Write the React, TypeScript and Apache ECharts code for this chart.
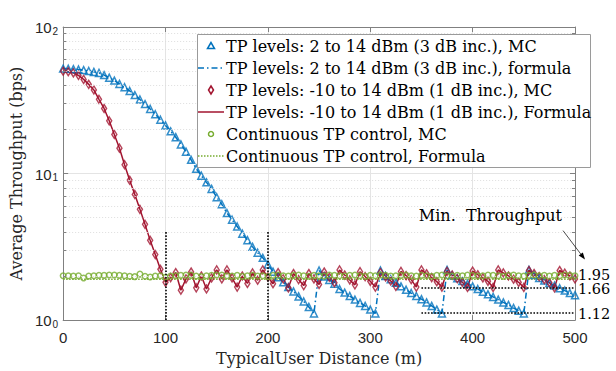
import React, { useEffect, useRef } from 'react';
import * as echarts from 'echarts';

// Distance grid (m) — samples every 5 m
const distances = Array.from({ length: 101 }, (_, i) => i * 5);

// TP levels: 2 to 14 dBm (3 dB inc.) — MC & formula
const blueMC = [
  52.0, 51.9, 51.6, 51.3, 50.8, 50.1, 49.4, 48.6, 47.0, 45.1,
  43.1, 40.9, 38.8, 36.6, 34.3, 32.0, 29.8, 27.6, 25.4, 23.3,
  21.3, 19.4, 17.7, 15.8, 14.1, 12.4, 10.8, 9.66, 8.71, 7.85,
  6.89, 6.17, 5.37, 4.84, 4.35, 3.89, 3.51, 3.16, 2.88, 2.66,
  2.40, 2.14, 1.96, 1.81, 1.68, 1.57, 1.45, 1.34, 1.23, 1.11,
  2.18, 1.98, 1.88, 1.77, 1.63, 1.54, 1.46, 1.38, 1.31, 1.25,
  1.18, 1.11, 2.18, 2.0, 1.9, 1.8, 1.7, 1.61, 1.53, 1.46,
  1.39, 1.32, 1.25, 1.18, 1.11, 2.2, 2.02, 1.93, 1.85, 1.77,
  1.7, 1.63, 1.56, 1.5, 1.44, 1.38, 1.32, 1.27, 1.21, 1.16,
  1.11, 2.2, 2.03, 1.94, 1.86, 1.79, 1.72, 1.65, 1.59, 1.53,
  1.48,
];

// TP levels: -10 to 14 dBm (1 dB inc.) — MC & formula
const redMC = [
  49.9, 49.5, 48.6, 46.7, 43.9, 40.6, 37.2, 32.1, 27.8, 22.9,
  18.5, 14.9, 11.5, 9.0, 7.2, 5.7, 4.5, 3.5, 2.8, 2.22,
  1.81, 1.95, 2.11, 1.6, 1.91, 2.13, 1.66, 2.0, 1.63, 1.94,
  2.2, 1.91, 2.2, 1.94, 1.68, 2.0, 1.78, 2.1, 1.87, 2.2,
  1.97, 1.77, 2.11, 1.91, 1.66, 2.08, 1.89, 1.72, 2.08, 1.91,
  1.75, 2.13, 1.96, 1.8, 2.2, 2.03, 1.88, 1.74, 2.14, 1.98,
  1.84, 1.68, 2.11, 1.97, 1.85, 1.7, 2.15, 2.01, 1.89, 1.68,
  2.2, 2.07, 1.95, 1.83, 1.68, 2.15, 2.03, 1.92, 1.81, 1.67,
  2.16, 2.04, 1.94, 1.84, 1.67, 2.2, 2.1, 2.0, 1.9, 1.81,
  1.67, 2.18, 2.08, 1.98, 1.89, 1.8, 1.66, 2.18, 2.09, 2.0,
  1.91,
];

// Continuous TP control — MC
const greenMC = [
  2.01, 2.01, 2.0, 2.01, 1.94, 2.0, 2.01, 2.02, 2.02, 2.03,
  2.03, 2.02, 2.01, 1.99, 1.98, 2.06, 1.99, 1.97, 2.0, 2.01,
  1.96, 2.0, 2.01, 2.02, 2.03, 2.02, 2.0, 1.98, 2.01, 2.02,
  2.03, 2.03, 2.01, 2.0, 2.02, 1.99, 2.01, 2.02, 2.0, 2.01,
  1.98, 2.02, 2.03, 2.01, 2.0, 2.02, 2.03, 2.01, 1.99, 2.02,
  2.01, 2.0, 2.03, 2.02, 2.01, 2.0, 2.02, 2.03, 2.01, 1.99,
  2.02, 2.01, 2.03, 2.02, 2.0, 2.01, 2.02, 2.03, 2.01, 2.0,
  2.02, 2.01, 1.99, 2.02, 2.03, 2.01, 2.0, 2.02, 2.01, 2.03,
  2.02, 2.0, 2.01, 2.03, 2.02, 2.01, 1.99, 2.02, 2.03, 2.01,
  2.0, 2.02, 2.03, 2.01, 2.02, 2.0, 2.02, 2.01, 2.03, 2.02,
  2.01,
];

// Continuous TP control — formula (constant level)
const greenFormulaX = [0, 500];
const greenFormulaY = [1.9, 1.9];

// Annotation values
const refLineX = [100, 200];
const refLineTop = 4;
const minLevelY = [1.66, 1.12];
const minLevelStart = 350;
const minLabelValues = [1.95, 1.66, 1.12];
const minLabels = ['1.95', '1.66', '1.12'];

const seriesNames = [
  'TP levels: 2 to 14 dBm (3 dB inc.), MC',
  'TP levels: 2 to 14 dBm (3 dB inc.), formula',
  'TP levels: -10 to 14 dBm (1 dB inc.), MC',
  'TP levels: -10 to 14 dBm (1 dB inc.), Formula',
  'Continuous TP control, MC',
  'Continuous TP control, Formula',
];
const legendIcons = ['triangle', 'dashdot', 'diamond', 'solid', 'circle', 'dotted'];

const BLUE = '#0072BD';
const RED = '#A2142F';
const GREEN = '#77AC30';
const SERIF = 'DejaVu Serif';
const SANS = 'Liberation Sans';
const AXIS_COLOR = '#808080';
const CLEAR = 'rgba(255,255,255,0)';
const DASHDOT = [6, 3, 1.5, 3];

const minorVals: number[] = [];
[1, 10].forEach((dec) => {
  for (let m = 2; m <= 9; m++) minorVals.push(m * dec);
});

function legendGraphics(): any[] {
  const L = 197, T = 34, W = 393, H = 133, ROW = 22;
  const cols = [BLUE, BLUE, RED, RED, GREEN, GREEN];
  const out: any[] = [
    {
      type: 'rect', z: 20, shape: { x: L + 0.5, y: T + 0.5, width: W, height: H },
      style: { fill: '#fff', stroke: '#9a9a9a', lineWidth: 1 },
    },
  ];
  seriesNames.forEach((name, i) => {
    const cy = T + 12 + ROW * i;
    const cx = L + 14;
    const c = cols[i];
    const kind = legendIcons[i];
    if (kind === 'triangle') {
      out.push({ type: 'polygon', z: 21, shape: { points: [[cx, cy - 3.5], [cx - 3.5, cy + 2.5], [cx + 3.5, cy + 2.5]] }, style: { fill: CLEAR, stroke: c, lineWidth: 1.5 } });
    } else if (kind === 'diamond') {
      out.push({ type: 'polygon', z: 21, shape: { points: [[cx, cy - 4], [cx + 2.5, cy], [cx, cy + 4], [cx - 2.5, cy]] }, style: { fill: CLEAR, stroke: c, lineWidth: 1.5 } });
    } else if (kind === 'circle') {
      out.push({ type: 'circle', z: 21, shape: { cx, cy, r: 2.5 }, style: { fill: CLEAR, stroke: c, lineWidth: 1.5 } });
    } else {
      const dash = kind === 'dashdot' ? DASHDOT : kind === 'dotted' ? [1.5, 1.5] : null;
      out.push({ type: 'line', z: 21, shape: { x1: L + 1, y1: cy, x2: L + 27, y2: cy }, style: { stroke: c, lineWidth: 1.5, lineDash: dash } });
    }
    out.push({
      type: 'text', z: 21, x: L + 29, y: cy,
      style: { text: name, fontFamily: SERIF, fontSize: 16, fill: '#000', align: 'left', verticalAlign: 'middle' },
    });
  });
  return out;
}

export default function App() {
  const ref = useRef<HTMLDivElement>(null);

  useEffect(() => {
    const el = ref.current;
    if (!el) return;
    const chart = echarts.init(el, null, { renderer: 'svg' });

    const pair = (ys: number[]) => distances.map((d, i) => [d, ys[i]]);
    const greenF = greenFormulaX.map((x, i) => [x, greenFormulaY[i]]);

    const axisLine = { show: true, onZero: false, lineStyle: { color: AXIS_COLOR, width: 1 } };
    const axisTick = { show: true, inside: true, length: 5, lineStyle: { color: AXIS_COLOR, width: 1 } };

    const option: any = {
      animation: false,
      backgroundColor: '#ffffff',
      grid: { left: 48, top: 27, right: 41, bottom: 48, containLabel: false },
      xAxis: [
        {
          type: 'value', min: 0, max: 500, interval: 100, position: 'bottom',
          axisLine, axisTick,
          axisLabel: { fontFamily: SANS, fontSize: 15, color: '#262626', margin: 10 },
          splitLine: { show: true, lineStyle: { color: '#e4e4e4', width: 1 } },
          name: 'TypicalUser Distance (m)', nameLocation: 'middle', nameGap: 26,
          nameTextStyle: { fontFamily: SERIF, fontSize: 16, color: '#262626' },
        },
        {
          type: 'value', min: 0, max: 500, interval: 100, position: 'top',
          axisLine, axisTick, axisLabel: { show: false }, splitLine: { show: false },
        },
      ],
      yAxis: [
        {
          type: 'log', logBase: 10, min: 1, max: 100, position: 'left',
          axisLine, axisTick,
          axisLabel: {
            margin: 5,
            formatter: (v: number) => `{b|10}{e|${Math.round(Math.log10(v))}}`,
            rich: {
              b: { fontFamily: SANS, fontSize: 15, color: '#262626', lineHeight: 16, padding: [10, 0, 0, 0], verticalAlign: 'bottom' },
              e: { fontFamily: SANS, fontSize: 10, color: '#262626', lineHeight: 10, padding: [7, 0, 0, 1], verticalAlign: 'top' },
            },
          },
          splitLine: { show: true, lineStyle: { color: '#e4e4e4', width: 1 } },
          name: 'Average Throughput (bps)', nameLocation: 'middle', nameGap: 25,
          nameTextStyle: { fontFamily: SERIF, fontSize: 16, color: '#262626' },
        },
        {
          type: 'log', logBase: 10, min: 1, max: 100, position: 'right',
          axisLine, axisTick, axisLabel: { show: false }, splitLine: { show: false },
        },
      ],
      series: [
        {
          name: seriesNames[0], type: 'scatter', data: pair(blueMC), symbol: 'triangle', symbolSize: 7,
          clip: false, z: 3, itemStyle: { color: CLEAR, borderColor: BLUE, borderWidth: 1.5 },
        },
        {
          name: seriesNames[1], type: 'line', data: pair(blueMC), symbol: 'none', z: 3,
          lineStyle: { color: BLUE, width: 1.5, type: DASHDOT }, itemStyle: { color: BLUE },
        },
        {
          name: seriesNames[2], type: 'scatter', data: pair(redMC), symbol: 'diamond', symbolSize: [5, 8],
          clip: false, z: 3, itemStyle: { color: CLEAR, borderColor: RED, borderWidth: 1.5 },
        },
        {
          name: seriesNames[3], type: 'line', data: pair(redMC), symbol: 'none', z: 3,
          lineStyle: { color: RED, width: 1.5 }, itemStyle: { color: RED },
        },
        {
          name: seriesNames[4], type: 'scatter', data: pair(greenMC), symbol: 'circle', symbolSize: 5.5,
          clip: false, z: 3, itemStyle: { color: CLEAR, borderColor: GREEN, borderWidth: 1.5 },
        },
        {
          name: seriesNames[5], type: 'line', data: greenF, symbol: 'none', z: 3,
          lineStyle: { color: GREEN, width: 1.5, type: 'dotted' }, itemStyle: { color: GREEN },
        },
        // minor grid lines
        {
          type: 'line', data: [], z: 1, silent: true,
          markLine: {
            silent: true, symbol: 'none', label: { show: false }, animation: false,
            lineStyle: { color: '#dedede', width: 1, type: [1, 2] },
            data: minorVals.map((v) => [{ coord: [0, v] }, { coord: [500, v] }]),
          },
        },
        // minor ticks (left & right)
        {
          type: 'line', data: [], z: 4, silent: true,
          markLine: {
            silent: true, symbol: 'none', label: { show: false }, animation: false,
            lineStyle: { color: AXIS_COLOR, width: 1, type: 'solid' },
            data: [
              ...minorVals.map((v) => [{ coord: [0, v] }, { coord: [3, v] }]),
              ...minorVals.map((v) => [{ coord: [497, v] }, { coord: [500, v] }]),
            ],
          },
        },
        // reference dotted lines
        {
          type: 'line', data: [], z: 5, silent: true,
          markLine: {
            silent: true, symbol: 'none', label: { show: false }, animation: false,
            lineStyle: { color: '#000', width: 1.6, type: 'dotted' },
            data: [
              ...refLineX.map((x) => [{ coord: [x, 1] }, { coord: [x, refLineTop] }]),
              ...minLevelY.map((y) => [{ coord: [minLevelStart, y] }, { coord: [500, y] }]),
            ],
          },
        },
      ],
    };

    chart.setOption(option);

    const p = (x: number, y: number) => chart.convertToPixel({ xAxisIndex: 0, yAxisIndex: 0 }, [x, y]) as number[];
    const graphics: any[] = legendGraphics();
    minLabelValues.forEach((v, i) => {
      const q = p(500, v);
      graphics.push({
        type: 'text', x: q[0] + 3, y: q[1] + (i === 0 ? -3 : 1.5), z: 10,
        style: { text: minLabels[i], fontFamily: SERIF, fontSize: 14.5, fill: '#000', align: 'left', verticalAlign: 'middle' },
      });
    });
    const a = p(500, minLabelValues[0]);
    const tip = [a[0] + 10, a[1] - 18];
    const tail = [a[0] - 12, a[1] - 47];
    const dx = tip[0] - tail[0];
    const dy = tip[1] - tail[1];
    const len = Math.sqrt(dx * dx + dy * dy);
    const ux = dx / len;
    const uy = dy / len;
    const base = [tip[0] - 7 * ux, tip[1] - 7 * uy];
    graphics.push({
      type: 'line', z: 10,
      shape: { x1: tail[0], y1: tail[1], x2: base[0], y2: base[1] },
      style: { stroke: '#000', lineWidth: 0.7 },
    });
    graphics.push({
      type: 'polygon', z: 10,
      shape: { points: [tip, [base[0] - 2.6 * uy, base[1] + 2.6 * ux], [base[0] + 2.6 * uy, base[1] - 2.6 * ux]] },
      style: { fill: '#000' },
    });
    graphics.push({
      type: 'text', x: a[0] - 13, y: a[1] - 62, z: 10,
      style: { text: 'Min.\u00a0 Throughput', fontFamily: SERIF, fontSize: 16, fill: '#000', align: 'right', verticalAlign: 'middle' },
    });
    chart.setOption({ graphic: graphics });

    return () => chart.dispose();
  }, []);

  return <div ref={ref} style={{ position: 'fixed', left: 0, top: 0, width: 616, height: 371 }} />;
}
